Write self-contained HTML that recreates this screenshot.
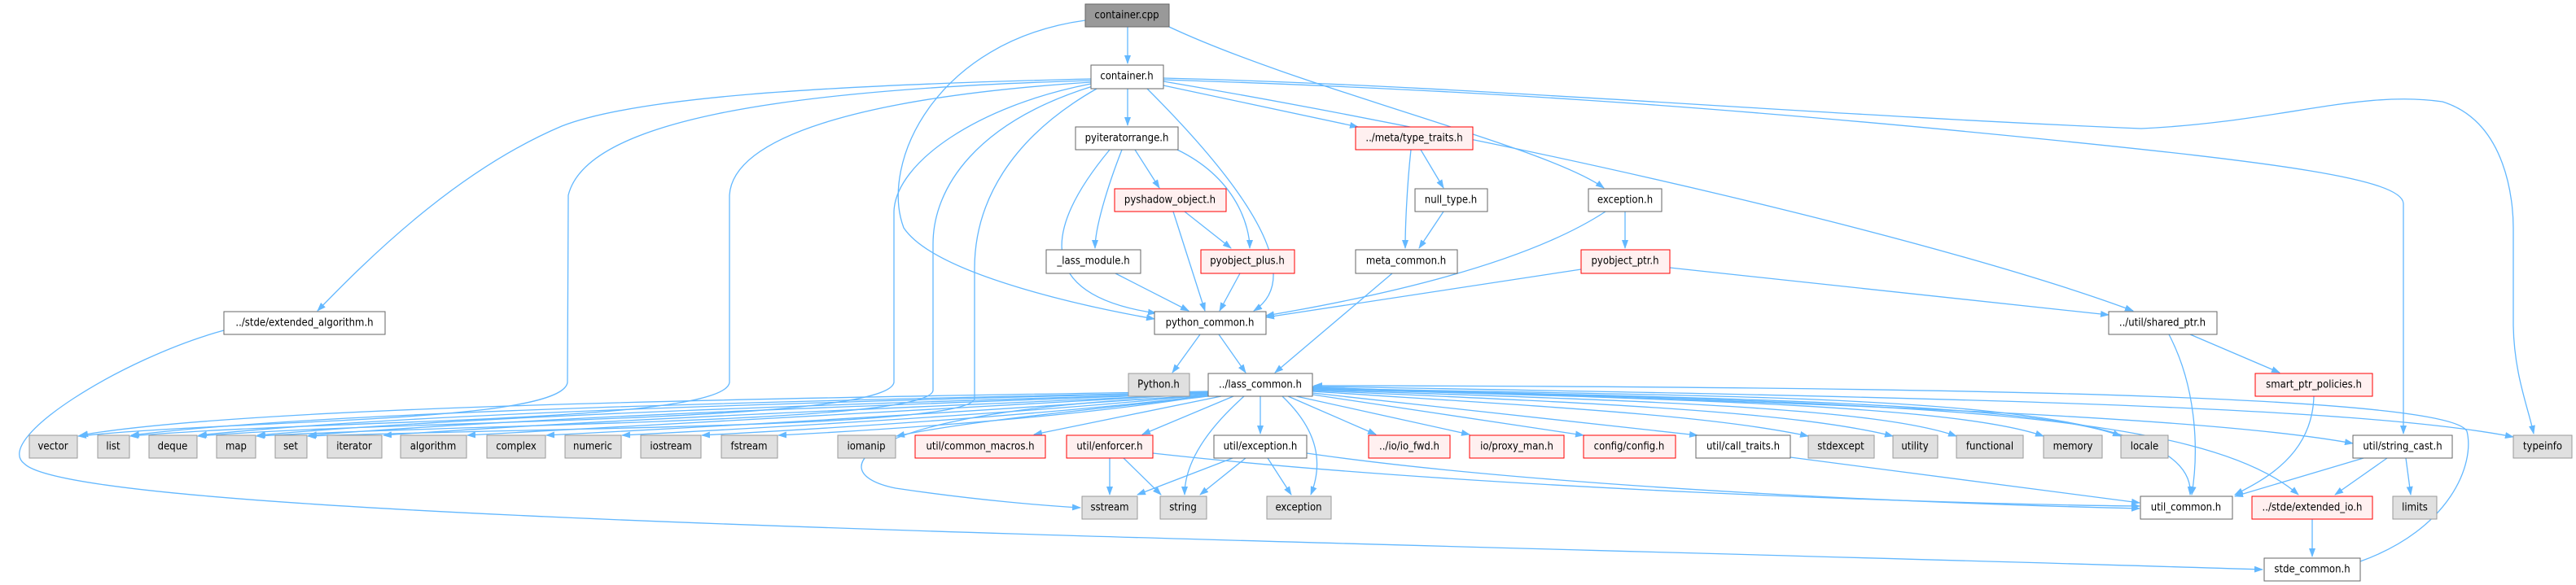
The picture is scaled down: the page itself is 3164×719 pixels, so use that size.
<!DOCTYPE html>
<html><head><meta charset="utf-8"><style>
html,body{margin:0;padding:0;background:#fff;}
svg{display:block}
text{font-family:"DejaVu Sans Condensed","Liberation Sans Narrow","Liberation Sans",sans-serif;font-size:13px;fill:#000;text-anchor:middle;dominant-baseline:central}
.e{fill:none;stroke:#63B8FF;stroke-width:1.3}
.w{fill:#fff;stroke:#666}
.r{fill:#FFF0F0;stroke:#FF0000}
.g{fill:#E0E0E0;stroke:#999}
.c{fill:#999;stroke:#666}
</style></head><body>
<svg width="3164" height="719" viewBox="0 0 3164 719" xmlns="http://www.w3.org/2000/svg">
<defs><marker id="a" markerUnits="userSpaceOnUse" markerWidth="11" markerHeight="8" refX="10" refY="4" orient="auto"><path d="M0,0 L11,4 L0,8 z" fill="#63B8FF"/></marker></defs>
<g class="e" marker-end="url(#a)">
<path d="M1385 33 L1385 78"/>
<path d="M1333 25 C1150 50,1080 200,1110 280 C1150 340,1350 380,1418 392"/>
<path d="M1436 33 C1600 110,1900 180,1970 231"/>
<path d="M1385 109 L1385 154"/>
<path d="M1429 105 L1668 156"/>
<path d="M1409 109 C1480 180,1620 330,1540 382"/>
<path d="M1340 97 C1000 105,780 120,690 155 C560 210,450 320,390 382"/>
<path d="M1340 99 C950 110,720 150,698 240 L697 470 C690 520,300 515,96 536"/>
<path d="M1340 101 C1050 120,900 170,896 240 L896 470 C890 520,400 515,160 536"/>
<path d="M1340 103 C1200 130,1100 200,1098 260 L1098 470 C1090 520,500 515,243 536"/>
<path d="M1342 106 C1200 150,1146 230,1146 300 L1146 480 C1140 520,600 520,315 536"/>
<path d="M1347 109 C1240 170,1197 250,1197 330 L1197 490 C1190 525,700 525,378 536"/>
<path d="M1429 100 C1900 180,2400 300,2620 382"/>
<path d="M1429 98 C1800 110,2100 130,2500 170 C2800 200,2950 220,2952 250 L2952 533"/>
<path d="M1429 96 C1800 105,2200 140,2630 158 C2800 150,2900 110,3000 125 C3080 150,3087 250,3087 280 L3087 400 C3088 460,3105 500,3112 533"/>
<path d="M1394 184 L1424 231"/>
<path d="M1378 184 C1360 230,1345 280,1345 305"/>
<path d="M1446 184 C1520 220,1535 280,1535 305"/>
<path d="M1363 184 C1300 260,1250 360,1420 385"/>
<path d="M1455 260 L1512 305"/>
<path d="M1441 260 L1480 382"/>
<path d="M1370 336 L1460 382"/>
<path d="M1523 336 L1498 382"/>
<path d="M1745 184 L1773 231"/>
<path d="M1733 184 C1728 230,1726 280,1726 305"/>
<path d="M1773 260 L1743 305"/>
<path d="M1972 260 C1850 340,1600 380,1555 388"/>
<path d="M1996 260 L1996 305"/>
<path d="M1942 331 L1555 390"/>
<path d="M2051 329 L2590 387"/>
<path d="M1710 336 L1566 458"/>
<path d="M1474 411 L1440 458"/>
<path d="M1497 411 L1530 458"/>
<path d="M2690 411 L2800 458"/>
<path d="M2664 411 C2700 480,2700 560,2692 608"/>
<path d="M2842 487 C2840 560,2780 590,2745 608"/>
<path d="M275 406 C150 440,-10 540,30 570 C100 640,1500 660,2779 700"/>
<path d="M1363 563 L1363 608"/>
<path d="M1380 563 L1426 608"/>
<path d="M1416 557 C1800 600,2400 620,2628 622"/>
<path d="M1514 563 L1397 608"/>
<path d="M1530 563 L1474 608"/>
<path d="M1557 563 L1586 608"/>
<path d="M1605 557 C1900 600,2400 620,2628 625"/>
<path d="M2199 562 L2628 618"/>
<path d="M2903 563 L2745 610"/>
<path d="M2932 563 L2868 608"/>
<path d="M2955 563 L2961 608"/>
<path d="M2840 638 L2840 684"/>
<path d="M2899 690 C3010 650,3040 570,3030 530 C3010 490,2500 475,1614 474"/>
<path d="M1484 481 C900 490,300 500,98 535"/>
<path d="M1484 482 C1000 492,400 505,161 535"/>
<path d="M1484 482 C1000 494,500 508,244 535"/>
<path d="M1484 483 C1050 496,600 510,316 535"/>
<path d="M1484 483 C1100 498,700 510,379 535"/>
<path d="M1484 484 C1150 500,800 512,471 535"/>
<path d="M1484 484 C1200 500,900 515,574 535"/>
<path d="M1484 485 C1250 502,1000 518,671 535"/>
<path d="M1484 485 C1300 504,1050 520,764 535"/>
<path d="M1484 486 C1320 506,1100 522,862 535"/>
<path d="M1484 486 C1350 508,1150 525,956 535"/>
<path d="M1484 487 C1380 500,1200 515,1101 536"/>
<path d="M1500 487 L1270 534"/>
<path d="M1515 487 L1403 534"/>
<path d="M1484 487 C1060 500,1000 580,1100 600 C1200 615,1290 622,1327 624"/>
<path d="M1528 487 C1480 530,1455 570,1455 608"/>
<path d="M1548 487 L1548 533"/>
<path d="M1575 487 C1620 530,1625 570,1610 608"/>
<path d="M1582 487 L1690 534"/>
<path d="M1592 487 L1805 534"/>
<path d="M1612 485 L1945 535"/>
<path d="M1612 483 L2085 535"/>
<path d="M1612 481 C1900 500,2100 510,2221 536"/>
<path d="M1612 480 C1950 495,2200 505,2325 536"/>
<path d="M1612 479 C2000 492,2300 500,2403 536"/>
<path d="M1612 478 C2050 490,2400 498,2510 536"/>
<path d="M1612 478 C2100 488,2500 495,2605 536"/>
<path d="M1612 477 C2200 490,2700 480,2690 608"/>
<path d="M1612 477 C2300 495,2700 500,2823 608"/>
<path d="M1612 476 C2200 495,2700 510,2890 545"/>
<path d="M1612 475 C2400 488,2900 500,3087 537"/>
</g>
<g>
<rect class="c" x="1333" y="5" width="103" height="28"/><text x="1384" y="19">container.cpp</text>
<rect class="w" x="1340" y="80" width="89" height="29"/><text x="1384" y="94">container.h</text>
<rect class="w" x="1321" y="156" width="126" height="28"/><text x="1384" y="170">pyiteratorrange.h</text>
<rect class="r" x="1665" y="156" width="144" height="28"/><text x="1737" y="170">../meta/type_traits.h</text>
<rect class="r" x="1369" y="232" width="137" height="28"/><text x="1437" y="246">pyshadow_object.h</text>
<rect class="w" x="1738" y="232" width="89" height="28"/><text x="1782" y="246">null_type.h</text>
<rect class="w" x="1951" y="232" width="90" height="28"/><text x="1996" y="246">exception.h</text>
<rect class="w" x="1285" y="307" width="116" height="29"/><text x="1343" y="321">_lass_module.h</text>
<rect class="r" x="1475" y="307" width="115" height="29"/><text x="1532" y="321">pyobject_plus.h</text>
<rect class="w" x="1665" y="307" width="125" height="29"/><text x="1727" y="321">meta_common.h</text>
<rect class="r" x="1942" y="307" width="109" height="29"/><text x="1996" y="321">pyobject_ptr.h</text>
<rect class="w" x="1418" y="383" width="137" height="28"/><text x="1486" y="397">python_common.h</text>
<rect class="w" x="275" y="383" width="198" height="28"/><text x="374" y="397">../stde/extended_algorithm.h</text>
<rect class="w" x="2590" y="383" width="133" height="28"/><text x="2656" y="397">../util/shared_ptr.h</text>
<rect class="g" x="1386" y="459" width="75" height="28"/><text x="1423" y="473">Python.h</text>
<rect class="w" x="1484" y="459" width="128" height="28"/><text x="1548" y="473">../lass_common.h</text>
<rect class="r" x="2770" y="459" width="144" height="28"/><text x="2842" y="473">smart_ptr_policies.h</text>
<rect class="g" x="36" y="535" width="59" height="28"/><text x="65" y="549">vector</text>
<rect class="g" x="120" y="535" width="39" height="28"/><text x="139" y="549">list</text>
<rect class="g" x="183" y="535" width="59" height="28"/><text x="212" y="549">deque</text>
<rect class="g" x="266" y="535" width="48" height="28"/><text x="290" y="549">map</text>
<rect class="g" x="338" y="535" width="39" height="28"/><text x="357" y="549">set</text>
<rect class="g" x="402" y="535" width="67" height="28"/><text x="435" y="549">iterator</text>
<rect class="g" x="492" y="535" width="81" height="28"/><text x="532" y="549">algorithm</text>
<rect class="g" x="598" y="535" width="72" height="28"/><text x="634" y="549">complex</text>
<rect class="g" x="694" y="535" width="69" height="28"/><text x="728" y="549">numeric</text>
<rect class="g" x="787" y="535" width="74" height="28"/><text x="824" y="549">iostream</text>
<rect class="g" x="886" y="535" width="69" height="28"/><text x="920" y="549">fstream</text>
<rect class="g" x="1029" y="535" width="71" height="28"/><text x="1064" y="549">iomanip</text>
<rect class="r" x="1124" y="535" width="160" height="28"/><text x="1204" y="549">util/common_macros.h</text>
<rect class="r" x="1310" y="535" width="106" height="28"/><text x="1363" y="549">util/enforcer.h</text>
<rect class="w" x="1491" y="535" width="114" height="28"/><text x="1548" y="549">util/exception.h</text>
<rect class="r" x="1681" y="535" width="100" height="28"/><text x="1731" y="549">../io/io_fwd.h</text>
<rect class="r" x="1805" y="535" width="116" height="28"/><text x="1863" y="549">io/proxy_man.h</text>
<rect class="r" x="1945" y="535" width="113" height="28"/><text x="2001" y="549">config/config.h</text>
<rect class="w" x="2083" y="535" width="116" height="28"/><text x="2141" y="549">util/call_traits.h</text>
<rect class="g" x="2221" y="535" width="81" height="28"/><text x="2261" y="549">stdexcept</text>
<rect class="g" x="2325" y="535" width="55" height="28"/><text x="2352" y="549">utility</text>
<rect class="g" x="2403" y="535" width="82" height="28"/><text x="2444" y="549">functional</text>
<rect class="g" x="2510" y="535" width="72" height="28"/><text x="2546" y="549">memory</text>
<rect class="g" x="2605" y="535" width="58" height="28"/><text x="2634" y="549">locale</text>
<rect class="w" x="2890" y="535" width="122" height="28"/><text x="2951" y="549">util/string_cast.h</text>
<rect class="g" x="3087" y="535" width="72" height="28"/><text x="3123" y="549">typeinfo</text>
<rect class="g" x="1329" y="610" width="68" height="28"/><text x="1363" y="624">sstream</text>
<rect class="g" x="1425" y="610" width="57" height="28"/><text x="1453" y="624">string</text>
<rect class="g" x="1556" y="610" width="79" height="28"/><text x="1595" y="624">exception</text>
<rect class="w" x="2629" y="610" width="113" height="28"/><text x="2685" y="624">util_common.h</text>
<rect class="r" x="2766" y="610" width="148" height="28"/><text x="2840" y="624">../stde/extended_io.h</text>
<rect class="g" x="2939" y="610" width="54" height="28"/><text x="2966" y="624">limits</text>
<rect class="w" x="2781" y="686" width="118" height="28"/><text x="2840" y="700">stde_common.h</text>
</g>
</svg>
</body></html>
